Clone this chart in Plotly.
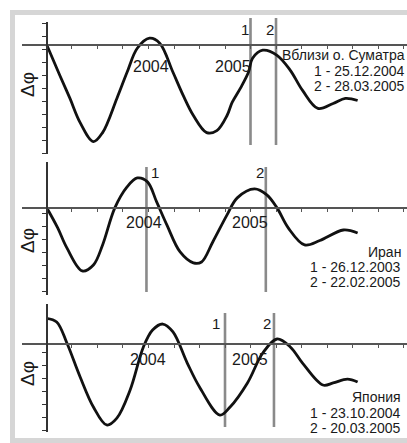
import plotly.graph_objects as go

# ---------------- data ----------------
# x in decimal years, y in relative units (1 unit = 1 axis tick)
sumatra_x = [2003.00, 2003.13, 2003.23, 2003.33, 2003.46, 2003.55, 2003.69, 2003.79, 2003.89,
             2004.01, 2004.11, 2004.24, 2004.34, 2004.44, 2004.57, 2004.67, 2004.77, 2004.82,
             2004.90, 2004.98, 2005.02, 2005.12, 2005.26, 2005.39, 2005.51, 2005.66, 2005.81,
             2005.93, 2006.05]
sumatra_y = [0.0, -2.38, -4.15, -6.0, -7.46, -6.77, -4.15, -2.15, -0.31,
             0.46, 0.08, -2.15, -3.92, -5.46, -6.77, -6.62, -5.46, -4.46,
             -3.38, -2.15, -1.08, -0.46, -0.85, -2.0, -3.54, -4.92, -4.54,
             -4.15, -4.31]

iran_x = [2003.00, 2003.11, 2003.20, 2003.35, 2003.46, 2003.55, 2003.67, 2003.79, 2003.89,
          2003.99, 2004.08, 2004.18, 2004.31, 2004.44, 2004.52, 2004.63, 2004.77, 2004.87,
          2005.04, 2005.16, 2005.26, 2005.37, 2005.53, 2005.68, 2005.91, 2006.05]
iran_y = [0.0, -1.59, -3.13, -4.90, -4.44, -2.90, -0.05, 1.56, 2.25,
          1.95, 0.41, -1.36, -3.44, -4.28, -4.21, -2.67, -0.59, 0.72,
          1.41, 0.95, -0.05, -1.59, -2.90, -2.56, -1.75, -1.98]

japan_x = [2003.00, 2003.10, 2003.20, 2003.33, 2003.46, 2003.59, 2003.69, 2003.82, 2003.95,
           2004.04, 2004.14, 2004.24, 2004.38, 2004.50, 2004.70, 2004.80, 2004.97, 2005.12,
           2005.26, 2005.39, 2005.51, 2005.71, 2005.81, 2005.95, 2006.05]
japan_y = [1.92, 1.64, 0.02, -2.59, -4.9, -6.28, -5.75, -3.59, -0.28,
           1.02, 1.48, 0.87, -1.52, -3.36, -5.52, -4.9, -3.05, -0.75,
           0.33, -0.28, -1.52, -3.21, -3.05, -2.75, -2.98]

# event markers (x)
sumatra_events = [2005.00, 2005.25]
iran_events = [2003.98, 2005.15]
japan_events = [2004.75, 2005.23]

titles = ["Вблизи о. Суматра", "Иран", "Япония"]
event_texts = [["1 - 25.12.2004", "2 - 28.03.2005"],
               ["1 - 26.12.2003", "2 - 22.02.2005"],
               ["1 - 23.10.2004", "2 - 20.03.2005"]]
year_labels = ["2004", "2005"]
year_ticks = [2004, 2005]
ylabel = "Δφ"

# ---------------- layout helpers ----------------
W, H = 407, 443
FONT = "Liberation Sans, Arial, sans-serif"
TXT = "#1a1a1a"


def px_x(p):
    return p / W


def px_y(p):
    return 1 - p / H


X_RANGE = [2002.760, 2006.534]
X_DOMAIN = [px_x(22), 1.0]

panels = [
    dict(x=sumatra_x, y=sumatra_y, ev=sumatra_events, top=22, bot=153.9, yr=[-8.4, 1.7],
         yt=[1.6 - k for k in range(11)], ev_top=18, ev_bot=145,
         ev_lbl_y=30, ev_lbl_dx=[-6, -6],
         year_dy=22, year_dx=[2, -18],
         txt_right=407, txt_y=[55, 71, 86], lab_y=84),
    dict(x=iran_x, y=iran_y, ev=iran_events, top=162, bot=295, yr=[-6.75, 3.48],
         yt=[-0.45 - k for k in range(7)], ev_top=167, ev_bot=292,
         ev_lbl_y=172, ev_lbl_dx=[9, -6],
         year_dy=15, year_dx=[-5, -1],
         txt_right=403, txt_y=[252, 267, 282], lab_y=240),
    dict(x=japan_x, y=japan_y, ev=japan_events, top=304, bot=432, yr=[-6.82, 3.02],
         yt=[-0.67 - k for k in range(7)], ev_top=313, ev_bot=427,
         ev_lbl_y=323, ev_lbl_dx=[-9, -7],
         year_dy=16, year_dx=[-1, -1],
         txt_right=403, txt_y=[397, 413, 428], lab_y=373),
]

fig = go.Figure()
shapes = []
annotations = []
layout_axes = {}

yaxis_pos = X_DOMAIN[0] + (2003.0 - X_RANGE[0]) / (X_RANGE[1] - X_RANGE[0]) * (X_DOMAIN[1] - X_DOMAIN[0])
qticks = [2003.25 + 0.25 * k for k in range(14)]

for i, p in enumerate(panels):
    n = "" if i == 0 else str(i + 1)
    xa, ya = "x" + n, "y" + n
    d0, d1 = px_y(p["bot"]), px_y(p["top"])
    r0, r1 = p["yr"]
    xpos = d0 + (0 - r0) / (r1 - r0) * (d1 - d0)

    fig.add_trace(go.Scatter(
        x=p["x"], y=p["y"], mode="lines", xaxis=xa, yaxis=ya,
        line=dict(color="#111111", width=2.8, shape="spline", smoothing=1.0),
        hoverinfo="skip", showlegend=False))

    layout_axes["xaxis" + n] = dict(
        domain=X_DOMAIN, range=X_RANGE, anchor="free", position=xpos,
        showline=True, linecolor="#555555", linewidth=1.3,
        ticks="outside", ticklen=3, tickwidth=1, tickcolor="#555555",
        tickvals=qticks, showticklabels=False, showgrid=False, zeroline=False,
        fixedrange=True)
    layout_axes["yaxis" + n] = dict(
        domain=[d0, d1], range=p["yr"], anchor="free", position=yaxis_pos,
        side="left", showline=True, linecolor="#333333", linewidth=1.3,
        ticks="outside", ticklen=4, tickwidth=1, tickcolor="#333333",
        tickvals=p["yt"], showticklabels=False, showgrid=False, zeroline=False,
        fixedrange=True)

    # event lines
    for k, ex in enumerate(p["ev"]):
        shapes.append(dict(type="line", xref=xa, yref="paper", x0=ex, x1=ex,
                           y0=px_y(p["ev_bot"]), y1=px_y(p["ev_top"]),
                           line=dict(color="#8a8a8a", width=2.6), layer="below"))
        annotations.append(dict(text=str(k + 1), xref=xa, yref="paper", x=ex,
                                y=px_y(p["ev_lbl_y"]), xanchor="center", yanchor="middle",
                                xshift=p["ev_lbl_dx"][k], showarrow=False,
                                font=dict(family=FONT, size=15, color=TXT)))

    # year labels
    for k, (yt, yl) in enumerate(zip(year_ticks, year_labels)):
        annotations.append(dict(text=yl, xref=xa, yref=ya, x=yt, y=0,
                                xanchor="center", yanchor="middle",
                                xshift=p["year_dx"][k], yshift=-p["year_dy"],
                                showarrow=False,
                                font=dict(family=FONT, size=16, color=TXT)))

    # right-side legend text
    lines = [titles[i]] + event_texts[i]
    for t, ty in zip(lines, p["txt_y"]):
        annotations.append(dict(text=t, xref="paper", yref="paper",
                                x=px_x(p["txt_right"]), y=px_y(ty),
                                xanchor="right", yanchor="middle", showarrow=False,
                                font=dict(family=FONT, size=14, color=TXT)))

    # axis label (rotated, reading bottom to top)
    annotations.append(dict(text=ylabel, xref="paper", yref="paper",
                            x=px_x(27), y=px_y(p["lab_y"]), xanchor="center",
                            yanchor="middle", textangle=-90, showarrow=False,
                            font=dict(family=FONT, size=19, color=TXT)))

# grey frame
shapes.append(dict(type="rect", xref="paper", yref="paper",
                   x0=px_x(12.5), x1=px_x(425), y0=px_y(440.5), y1=px_y(12.5),
                   line=dict(color="#d6d6d6", width=5), fillcolor="rgba(0,0,0,0)",
                   layer="below"))

fig.update_layout(
    width=W, height=H, margin=dict(l=0, r=0, t=0, b=0, pad=0),
    paper_bgcolor="white", plot_bgcolor="rgba(0,0,0,0)",
    showlegend=False, shapes=shapes, annotations=annotations,
    font=dict(family=FONT),
    **layout_axes)

fig.write_html("out.html", config={"displayModeBar": False, "staticPlot": True},
               post_script="document.body.style.margin='0';document.body.style.overflow='hidden';")
